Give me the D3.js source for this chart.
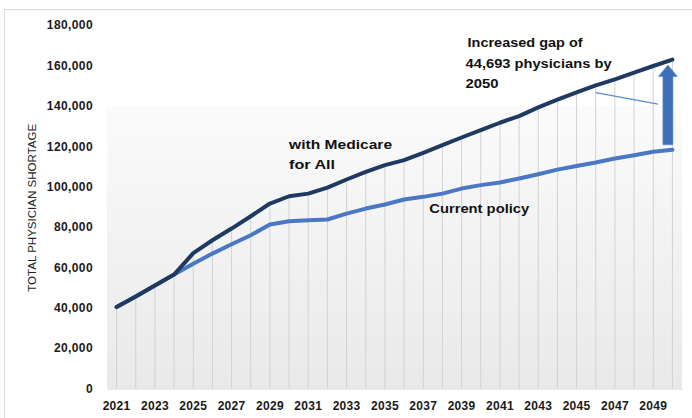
<!DOCTYPE html>
<html>
<head>
<meta charset="utf-8">
<script src="https://cdn.jsdelivr.net/npm/d3@7"></script>
<style>
  html, body { margin: 0; padding: 0; background: #fff; }
  svg { display: block; }
  text { font-family: "Liberation Sans", Arial, sans-serif; }
</style>
</head>
<body>
<svg id="chart" width="692" height="418"></svg>
<script>
// ---- data ----
const years = [2021,2022,2023,2024,2025,2026,2027,2028,2029,2030,
               2031,2032,2033,2034,2035,2036,2037,2038,2039,2040,
               2041,2042,2043,2044,2045,2046,2047,2048,2049,2050];
const medicareForAll = [40300,45600,51000,56400,67000,73400,79200,85300,91600,95200,
                        96500,99500,103500,107300,110600,113100,116700,120500,124300,127900,
                        131600,134900,139200,143000,146600,150100,153100,156400,159700,162900];
const currentPolicy  = [40300,45600,51000,56400,61800,66800,71400,75900,81200,82800,
                        83300,83700,86600,89100,91100,93600,94900,96500,99000,100700,
                        102000,104000,106100,108400,110200,111900,113900,115500,117200,118200];
const yTicks = [0,20000,40000,60000,80000,100000,120000,140000,160000,180000];
const xTickLabels = [2021,2023,2025,2027,2029,2031,2033,2035,2037,2039,2041,2043,2045,2047,2049];
const yTitle = "TOTAL PHYSICIAN SHORTAGE";
const seriesLabels = ["with Medicare", "for All", "Current policy"];
const gapNote = ["Increased gap of", "44,693  physicians by", "2050"];

// ---- setup ----
const svg = d3.select("#chart");
const x = d3.scaleBand().domain(years).range([107, 682]);
const bw = x.bandwidth();
const cx = yr => x(yr) + bw / 2;
const y = d3.scaleLinear().domain([0, 180000]).range([388.5, 25]);

// outer frame (left + top visible)
svg.append("rect").attr("x", 4.5).attr("y", 9.5).attr("width", 720).attr("height", 440)
  .attr("fill", "none").attr("stroke", "#d9d9d9").attr("stroke-width", 1);

// plot background gradient
const defs = svg.append("defs");
const grad = defs.append("linearGradient").attr("id", "bg").attr("x1", 0).attr("y1", 0).attr("x2", 0).attr("y2", 1);
grad.append("stop").attr("offset", "0%").attr("stop-color", "#fbfbfb");
grad.append("stop").attr("offset", "100%").attr("stop-color", "#e9e9e9");
svg.append("rect").attr("x", x.range()[0]).attr("y", y(140000))
  .attr("width", x.range()[1] - x.range()[0]).attr("height", y(0) - y(140000))
  .attr("fill", "url(#bg)");

// drop lines
const data = years.map((yr, i) => ({year: yr, m: medicareForAll[i], c: currentPolicy[i]}));
svg.append("g").selectAll("line").data(data).join("line")
  .attr("x1", d => cx(d.year)).attr("x2", d => cx(d.year))
  .attr("y1", d => y(d.m)).attr("y2", y(0))
  .attr("stroke", "#d2d2d2").attr("stroke-width", 1);

// y axis
const yAxis = svg.append("g").attr("transform", `translate(${x.range()[0]},0)`)
  .call(d3.axisLeft(y).tickValues(yTicks).tickFormat(d3.format(",")).tickSize(0).tickPadding(14));
yAxis.select(".domain").remove();
yAxis.selectAll("text").attr("font-size", 12).attr("font-weight", "bold")
  .attr("fill", "#1a1a1a").attr("letter-spacing", "0.4px");

// x axis
const xAxis = svg.append("g").attr("transform", `translate(0,${y(0)})`)
  .call(d3.axisBottom(x).tickValues(xTickLabels).tickSize(0).tickSizeOuter(0).tickPadding(13));
xAxis.select(".domain").attr("stroke", "#d9d9d9").attr("stroke-width", 1.2);
xAxis.selectAll("text").attr("font-size", 12).attr("font-weight", "bold")
  .attr("fill", "#1a1a1a").attr("letter-spacing", "0.3px");

// y title
svg.append("text")
  .attr("transform", `translate(36,${(y(0) + y(180000)) / 2 + 1}) rotate(-90)`)
  .attr("text-anchor", "middle").attr("font-size", 11.5).attr("fill", "#222")
  .attr("textLength", 168).attr("lengthAdjust", "spacingAndGlyphs")
  .text(yTitle);

// lines
const line = key => d3.line().x(d => cx(d.year)).y(d => y(d[key]));
svg.append("path").datum(data).attr("d", line("c"))
  .attr("fill", "none").attr("stroke", "#4a78c4").attr("stroke-width", 4)
  .attr("stroke-linejoin", "round").attr("stroke-linecap", "round");
svg.append("path").datum(data).attr("d", line("m"))
  .attr("fill", "none").attr("stroke", "#1e3a60").attr("stroke-width", 4)
  .attr("stroke-linejoin", "round").attr("stroke-linecap", "round");

// callout line
svg.append("line")
  .attr("x1", cx(2046)).attr("y1", y(146500))
  .attr("x2", cx(2049) + bw * 0.25).attr("y2", y(140800))
  .attr("stroke", "#5a8ad0").attr("stroke-width", 1.2);

// gap arrow
const last = data[data.length - 1];
const ax = cx(last.year) - 4.5;
const aTop = y(last.m) + 5.5;
const aBot = y(last.c) - 5;
const shaftW = 10, headW = 19, headH = 11.5;
const arrowPts = [
  [ax, aTop], [ax + headW / 2, aTop + headH], [ax + shaftW / 2, aTop + headH],
  [ax + shaftW / 2, aBot], [ax - shaftW / 2, aBot], [ax - shaftW / 2, aTop + headH],
  [ax - headW / 2, aTop + headH]
];
svg.append("path").attr("d", d3.line()(arrowPts) + "Z")
  .attr("fill", "#3e6fb8").attr("stroke", "#5d8bd0").attr("stroke-width", 0.6);

// annotations
const ann = svg.append("g").attr("font-weight", "bold").attr("fill", "#111");
ann.append("text").attr("x", cx(2030)).attr("y", y(118800)).attr("font-size", 13.5)
  .attr("textLength", 103).attr("lengthAdjust", "spacingAndGlyphs").text(seriesLabels[0]);
ann.append("text").attr("x", cx(2030)).attr("y", y(108800)).attr("font-size", 13.5)
  .attr("textLength", 46).attr("lengthAdjust", "spacingAndGlyphs").text(seriesLabels[1]);
ann.append("text").attr("x", cx(2037) + 6).attr("y", y(87000)).attr("font-size", 13.5)
  .attr("textLength", 100).attr("lengthAdjust", "spacingAndGlyphs").text(seriesLabels[2]);
ann.append("text").attr("x", cx(2039) + 6).attr("y", y(169200)).attr("font-size", 13.5)
  .attr("textLength", 115).attr("lengthAdjust", "spacingAndGlyphs").text(gapNote[0]);
ann.append("text").attr("x", cx(2039) + 4).attr("y", y(158800)).attr("font-size", 13.5)
  .attr("textLength", 146).attr("lengthAdjust", "spacingAndGlyphs").text(gapNote[1]);
ann.append("text").attr("x", cx(2039) + 4).attr("y", y(148600)).attr("font-size", 13.5)
  .attr("textLength", 33).attr("lengthAdjust", "spacingAndGlyphs").text(gapNote[2]);
</script>
</body>
</html>
